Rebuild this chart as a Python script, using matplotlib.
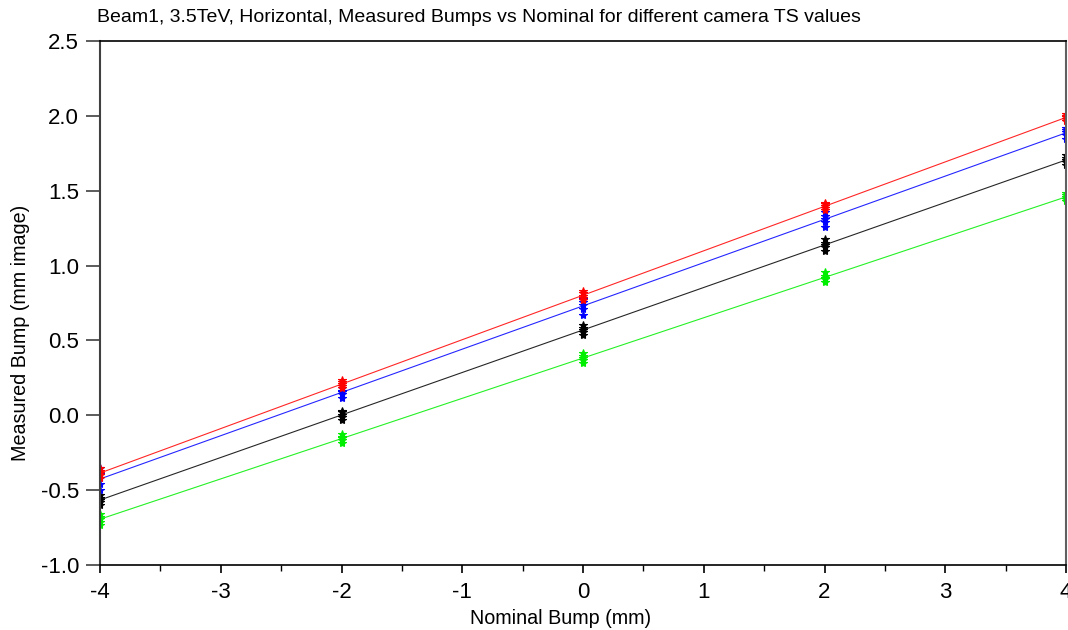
import numpy as np
import matplotlib
matplotlib.use('Agg')
import matplotlib.pyplot as plt
from matplotlib.ticker import MultipleLocator

plt.rcParams['font.family'] = ['Liberation Sans', 'DejaVu Sans']
plt.rcParams['axes.unicode_minus'] = False

# nominal bump positions (mm)
nominal = [-4, -2, 0, 2, 4]

# measured bumps, 5 camera TS values per nominal position
red_pts = [[-0.42, -0.40, -0.385, -0.37, -0.35],
           [0.18, 0.195, 0.21, 0.22, 0.235],
           [0.77, 0.785, 0.80, 0.815, 0.83],
           [1.37, 1.385, 1.395, 1.41, 1.42],
           [1.965, 1.98, 1.99, 2.0, 2.015]]
blue_pts = [[-0.50, -0.46, -0.42, -0.39, -0.355],
            [0.115, 0.14, 0.155, 0.165, 0.185],
            [0.67, 0.71, 0.735, 0.755, 0.78],
            [1.26, 1.29, 1.31, 1.33, 1.36],
            [1.845, 1.87, 1.89, 1.905, 1.92]]
black_pts = [[-0.60, -0.58, -0.565, -0.55, -0.535],
             [-0.03, -0.01, 0.0, 0.02, 0.03],
             [0.535, 0.555, 0.57, 0.585, 0.605],
             [1.10, 1.125, 1.14, 1.15, 1.175],
             [1.67, 1.69, 1.705, 1.72, 1.74]]
green_pts = [[-0.73, -0.71, -0.695, -0.68, -0.66],
             [-0.185, -0.165, -0.155, -0.145, -0.125],
             [0.35, 0.37, 0.385, 0.395, 0.415],
             [0.89, 0.91, 0.92, 0.93, 0.955],
             [1.43, 1.445, 1.46, 1.47, 1.485]]

series = [(green_pts, '#00ee00'), (black_pts, 'black'),
          (blue_pts, '#0000ff'), (red_pts, '#ff0000')]

fig = plt.figure(figsize=(10.68, 6.30), dpi=100)
ax = fig.add_axes([100/1068, 1 - 565/630, 966/1068, 524/630])

for pts, col in series:
    xs = np.repeat(nominal, len(pts[0]))
    ys = np.array(pts).ravel()
    ax.plot(xs, ys, linestyle='none', marker='*', ms=6, color=col, mew=0.8)
    # linear fit through all points
    k, b = np.polyfit(xs, ys, 1)
    xl = np.array([-4, 4])
    ax.plot(xl, k * xl + b, color=col, lw=0.8, alpha=0.85)

ax.set_xlim(-4, 4)
ax.set_ylim(-1.0, 2.5)
ax.xaxis.set_major_locator(MultipleLocator(1))
ax.xaxis.set_minor_locator(MultipleLocator(0.5))
ax.yaxis.set_major_locator(MultipleLocator(0.5))
ax.yaxis.set_major_formatter(plt.FormatStrFormatter('%.1f'))

ax.tick_params(axis='y', direction='out', length=10, width=1.2, pad=5,
               labelsize=16, right=False, color='#404040')
ax.tick_params(axis='x', which='major', direction='out', length=6, width=1.2,
               pad=6, labelsize=16, top=False)
ax.tick_params(axis='x', which='minor', direction='out', length=4, width=1.0,
               top=False)

ax.spines['left'].set_color('#404040')
ax.spines['left'].set_linewidth(1.5)
ax.spines['bottom'].set_linewidth(1.2)
ax.spines['top'].set_linewidth(1.2)
ax.spines['right'].set_color('#606060')
ax.spines['right'].set_linewidth(1.5)

ax.set_xlabel('Nominal Bump (mm)', fontsize=14.2)
ax.set_ylabel('Measured Bump (mm image)', fontsize=14.2)
ax.xaxis.set_label_coords(0.477, -0.084)
ax.yaxis.set_label_coords(-0.072, 0.443)

fig.text(97/1068, 1 - 17/630, 'Beam1, 3.5TeV, Horizontal, Measured Bumps vs Nominal for different camera TS values',
         fontsize=14, va='center', ha='left')

fig.savefig('out.png', dpi=100)
